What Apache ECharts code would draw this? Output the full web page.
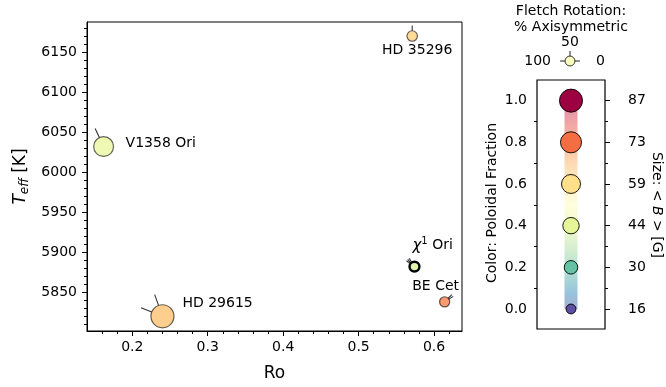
<!DOCTYPE html>
<html>
<head>
<meta charset="utf-8">
<script src="https://cdn.jsdelivr.net/npm/echarts@6.0.0/dist/echarts.min.js"></script>
<style>
  html, body { margin: 0; padding: 0; background: #fff; }
  #chart { width: 666px; height: 387px; }
</style>
</head>
<body>
<div id="chart"></div>
<script>
// ---- Stars: Rossby number vs effective temperature ----
const starNames = ['HD 35296', 'V1358 Ori', 'HD 29615', 'χ1 Ori', 'BE Cet'];
const rossbyNumbers = [0.571, 0.162, 0.240, 0.574, 0.614];
const effTemps = [6170, 6032, 5820, 5882, 5838];
const poloidalFractions = [0.63, 0.42, 0.66, 0.38, 0.77];
const meanFields = [18, 65, 87, 16, 17];              // <B> in gauss
const axisymmetricPcts = [[50], [64], [61, 88], [68, 74, 80], [18, 25]];

// ---- Main axes ticks ----
const roTicks = [0.2, 0.3, 0.4, 0.5, 0.6];
const roMinorTicks = [0.16, 0.18, 0.22, 0.24, 0.26, 0.28, 0.32, 0.34, 0.36, 0.38,
                      0.42, 0.44, 0.46, 0.48, 0.52, 0.54, 0.56, 0.58, 0.62];
const teffTicks = [5850, 5900, 5950, 6000, 6050, 6100, 6150];
const teffMinorTicks = [5810, 5820, 5830, 5840, 5860, 5870, 5880, 5890, 5910, 5920, 5930, 5940,
                        5960, 5970, 5980, 5990, 6010, 6020, 6030, 6040, 6060, 6070, 6080, 6090,
                        6110, 6120, 6130, 6140, 6160, 6170, 6180];

// ---- Colour / size key ----
const keyFractions = [0.0, 0.2, 0.4, 0.6, 0.8, 1.0];
const keyFractionLabels = ['0.0', '0.2', '0.4', '0.6', '0.8', '1.0'];
const keyFields = [16, 30, 44, 59, 73, 87];
const keyMinorTicks = [0.1, 0.3, 0.5, 0.7, 0.9];

// ---- Fletch rotation key ----
const rotationKeyPcts = [0, 50, 100];
const rotationKeyLabels = ['0', '50', '100'];
const rotationKeyFraction = 0.5;
const rotationKeyField = 16;

// Spectral colormap, reversed so 0 -> purple, 1 -> dark red
const spectral = ['#9e0142', '#d53e4f', '#f46d43', '#fdae61', '#fee08b', '#ffffbf',
                  '#e6f598', '#abdda4', '#66c2a5', '#3288bd', '#5e4fa2'];
const spectralR = spectral.slice().reverse();

const FONT = 'DejaVu Sans';
const markerDiameter = b => 2.47 * Math.sqrt(b);

// label placement for each star
const starLabelPlacement = {
  'HD 35296': { offset: [5, 14], align: 'center' },
  'V1358 Ori': { offset: [22, -3], align: 'left' },
  'HD 29615': { offset: [20, -13], align: 'left' },
  'χ1 Ori': { offset: [-2, -21], align: 'left' },
  'BE Cet': { offset: [-9, -15], align: 'center' }
};

const starData = starNames.map((name, i) => {
  const item = {
    name: name,
    value: [rossbyNumbers[i], effTemps[i], poloidalFractions[i], meanFields[i]]
  };
  if (name === 'χ1 Ori') item.itemStyle = { borderWidth: 2.4, borderColor: '#000' };
  return item;
});

const starLabelData = starNames.map((name, i) => {
  const place = starLabelPlacement[name];
  return {
    name: name,
    value: [rossbyNumbers[i], effTemps[i]],
    label: {
      show: true, position: 'inside', offset: place.offset, align: place.align,
      verticalAlign: 'middle',
      formatter: name === 'χ1 Ori' ? '{chi|χ}{sup|1} Ori' : name
    }
  };
});

const fletchData = [];
starNames.forEach((name, i) => {
  axisymmetricPcts[i].forEach(p => {
    fletchData.push([rossbyNumbers[i], effTemps[i], meanFields[i], p]);
  });
});

const rotationFletchData = rotationKeyPcts.map(p => [0, 0, rotationKeyField, p]);

// a fletch: short line leaving the marker edge at an angle set by % axisymmetric
function fletchRender(params, api) {
  const c = api.coord([api.value(0), api.value(1)]);
  const r = markerDiameter(api.value(2)) / 2;
  const a = api.value(3) / 100 * Math.PI;
  const dx = Math.cos(a), dy = -Math.sin(a);
  return {
    type: 'line',
    shape: { x1: c[0] + dx * r, y1: c[1] + dy * r, x2: c[0] + dx * 2 * r, y2: c[1] + dy * 2 * r },
    style: { stroke: '#333', lineWidth: 1.1 }
  };
}

const tickLabelStyle = { color: '#000', fontSize: 14, fontFamily: FONT };
const blackLine = { color: '#000', width: 1 };

const chart = echarts.init(document.getElementById('chart'), null, { renderer: 'canvas' });

chart.setOption({
  animation: false,
  textStyle: { fontFamily: FONT, color: '#000' },
  grid: [
    { left: 87, top: 22, width: 375, height: 309, show: true, borderColor: '#000', borderWidth: 1, containLabel: false },
    { left: 537, top: 80, width: 68, height: 249, show: true, borderColor: '#000', borderWidth: 1.2, containLabel: false },
    { left: 560, top: 51, width: 20, height: 20, containLabel: false }
  ],
  xAxis: [
    {
      gridIndex: 0, type: 'value', min: 0.14, max: 0.637, position: 'bottom',
      name: 'Ro', nameLocation: 'middle', nameGap: 34,
      nameTextStyle: { fontSize: 17, color: '#000', fontFamily: FONT },
      axisLine: { show: true, lineStyle: blackLine },
      axisTick: { show: true, length: 5, customValues: roTicks, lineStyle: blackLine },
      axisLabel: { show: true, customValues: roTicks, margin: 9, ...tickLabelStyle },
      splitLine: { show: false }
    },
    {
      gridIndex: 0, type: 'value', min: 0.14, max: 0.637, position: 'bottom',
      axisLine: { show: false },
      axisTick: { show: true, length: 3, customValues: roMinorTicks, lineStyle: blackLine },
      axisLabel: { show: false }, splitLine: { show: false }
    },
    {
      gridIndex: 1, type: 'value', min: -1, max: 1, show: false
    },
    {
      gridIndex: 2, type: 'value', min: -1, max: 1, show: false
    }
  ],
  yAxis: [
    {
      gridIndex: 0, type: 'value', min: 5801.6, max: 6187.5, position: 'left',
      name: '{t|T}{sub|eff} [K]', nameLocation: 'middle', nameGap: 56,
      nameTextStyle: {
        fontSize: 17, color: '#000', fontFamily: FONT,
        rich: {
          t: { fontSize: 17, fontStyle: 'italic', fontFamily: FONT },
          sub: { fontSize: 12, fontStyle: 'italic', fontFamily: FONT, padding: [7, 0, 0, 0] }
        }
      },
      axisLine: { show: true, lineStyle: blackLine },
      axisTick: { show: true, length: 5, customValues: teffTicks, lineStyle: blackLine },
      axisLabel: { show: true, customValues: teffTicks, margin: 10, ...tickLabelStyle, formatter: v => String(v) },
      splitLine: { show: false }
    },
    {
      gridIndex: 0, type: 'value', min: 5801.6, max: 6187.5, position: 'left',
      axisLine: { show: false },
      axisTick: { show: true, length: 3, customValues: teffMinorTicks, lineStyle: blackLine },
      axisLabel: { show: false }, splitLine: { show: false }
    },
    {
      gridIndex: 1, type: 'value', min: -0.096, max: 1.099, position: 'left',
      axisLine: { show: false },
      axisTick: { show: true, length: 5, customValues: keyFractions, lineStyle: blackLine },
      axisLabel: {
        show: true, customValues: keyFractions, margin: 10, ...tickLabelStyle,
        formatter: v => keyFractionLabels[keyFractions.indexOf(v)]
      },
      splitLine: { show: false }
    },
    {
      gridIndex: 1, type: 'value', min: -0.096, max: 1.099, position: 'left',
      axisLine: { show: false },
      axisTick: { show: true, length: 3, customValues: keyMinorTicks, lineStyle: blackLine },
      axisLabel: { show: false }, splitLine: { show: false }
    },
    {
      gridIndex: 1, type: 'value', min: -0.096, max: 1.099, position: 'right',
      axisLine: { show: false },
      axisTick: { show: true, length: 5, customValues: keyFractions, lineStyle: blackLine },
      axisLabel: {
        show: true, customValues: keyFractions, margin: 23, ...tickLabelStyle,
        formatter: v => String(keyFields[keyFractions.indexOf(v)])
      },
      splitLine: { show: false }
    },
    {
      gridIndex: 1, type: 'value', min: -0.096, max: 1.099, position: 'right',
      axisLine: { show: false },
      axisTick: { show: true, length: 3, customValues: keyMinorTicks, lineStyle: blackLine },
      axisLabel: { show: false }, splitLine: { show: false }
    },
    {
      gridIndex: 2, type: 'value', min: -1, max: 1, show: false
    }
  ],
  visualMap: [
    { show: false, type: 'continuous', seriesIndex: 1, dimension: 2, min: 0, max: 1,
      inRange: { color: spectralR, colorAlpha: [0.8, 0.8] } },
    { show: false, type: 'continuous', seriesIndex: 3, dimension: 1, min: 0, max: 1, inRange: { color: spectralR } },
    { show: false, type: 'continuous', seriesIndex: 5, dimension: 2, min: 0, max: 1, inRange: { color: spectralR } }
  ],
  series: [
    {
      type: 'custom', xAxisIndex: 0, yAxisIndex: 0, z: 2,
      renderItem: fletchRender, data: fletchData, encode: { x: 0, y: 1 }, silent: true
    },
    {
      type: 'scatter', xAxisIndex: 0, yAxisIndex: 0, z: 3,
      symbol: 'circle',
      symbolSize: val => markerDiameter(val[3]),
      itemStyle: { borderColor: 'rgba(0,0,0,0.6)', borderWidth: 1.2, opacity: 1 },
      data: starData, silent: true
    },
    {
      type: 'line', xAxisIndex: 2, yAxisIndex: 2, z: 1,
      symbol: 'none', showSymbol: false, silent: true,
      data: [[0, keyFractions[0]], [0, keyFractions[keyFractions.length - 1]]],
      lineStyle: {
        width: 13, opacity: 0.5, cap: 'butt',
        color: {
          type: 'linear', x: 0, y: 0, x2: 0, y2: 1,
          colorStops: spectral.map((c, i) => ({ offset: i / (spectral.length - 1), color: c }))
        }
      }
    },
    {
      type: 'scatter', xAxisIndex: 2, yAxisIndex: 2, z: 5,
      symbol: 'circle',
      symbolSize: val => markerDiameter(val[2]),
      itemStyle: { borderColor: '#000', borderWidth: 0.9, opacity: 1 },
      data: keyFractions.map((f, i) => [0, f, keyFields[i]]), silent: true
    },
    {
      type: 'custom', xAxisIndex: 3, yAxisIndex: 6, z: 2,
      renderItem: fletchRender, data: rotationFletchData, encode: { x: 0, y: 1 }, silent: true
    },
    {
      type: 'scatter', xAxisIndex: 3, yAxisIndex: 6, z: 3,
      symbol: 'circle',
      symbolSize: val => markerDiameter(val[3]),
      itemStyle: { borderColor: '#333', borderWidth: 1, opacity: 1 },
      data: [[0, 0, rotationKeyFraction, rotationKeyField]], silent: true
    },
    {
      // star names
      type: 'scatter', xAxisIndex: 0, yAxisIndex: 0, z: 6,
      symbol: 'circle', symbolSize: 0, silent: true,
      itemStyle: { opacity: 1 },
      label: {
        color: '#000', fontSize: 14, fontFamily: FONT,
        rich: {
          chi: { fontSize: 15, fontStyle: 'italic', fontFamily: FONT, color: '#000' },
          sup: { fontSize: 10, fontFamily: FONT, color: '#000', padding: [0, 0, 8, 0] }
        }
      },
      data: starLabelData
    }
  ],
  graphic: [
    { type: 'text', x: 571, y: 11, style: { text: 'Fletch Rotation:', fontSize: 14, fontFamily: FONT, fill: '#000', align: 'center', verticalAlign: 'middle' } },
    { type: 'text', x: 571, y: 27, style: { text: '% Axisymmetric', fontSize: 14, fontFamily: FONT, fill: '#000', align: 'center', verticalAlign: 'middle' } },
    { type: 'text', x: 570, y: 42, style: { text: rotationKeyLabels[1], fontSize: 14, fontFamily: FONT, fill: '#000', align: 'center', verticalAlign: 'middle' } },
    { type: 'text', x: 551, y: 61, style: { text: rotationKeyLabels[2], fontSize: 14, fontFamily: FONT, fill: '#000', align: 'right', verticalAlign: 'middle' } },
    { type: 'text', x: 596, y: 61, style: { text: rotationKeyLabels[0], fontSize: 14, fontFamily: FONT, fill: '#000', align: 'left', verticalAlign: 'middle' } },
    { type: 'text', x: 492, y: 203, rotation: Math.PI / 2,
      style: { text: 'Color: Poloidal Fraction', fontSize: 14, fontFamily: FONT, fill: '#000', align: 'center', verticalAlign: 'middle' } },
    { type: 'text', x: 657, y: 205, rotation: -Math.PI / 2,
      style: {
        text: 'Size: < {b|B} > [G]', fontSize: 14, fontFamily: FONT, fill: '#000', align: 'center', verticalAlign: 'middle',
        rich: { b: { fontSize: 14, fontStyle: 'italic', fontFamily: FONT, fill: '#000' } }
      } }
  ]
});
</script>
</body>
</html>
